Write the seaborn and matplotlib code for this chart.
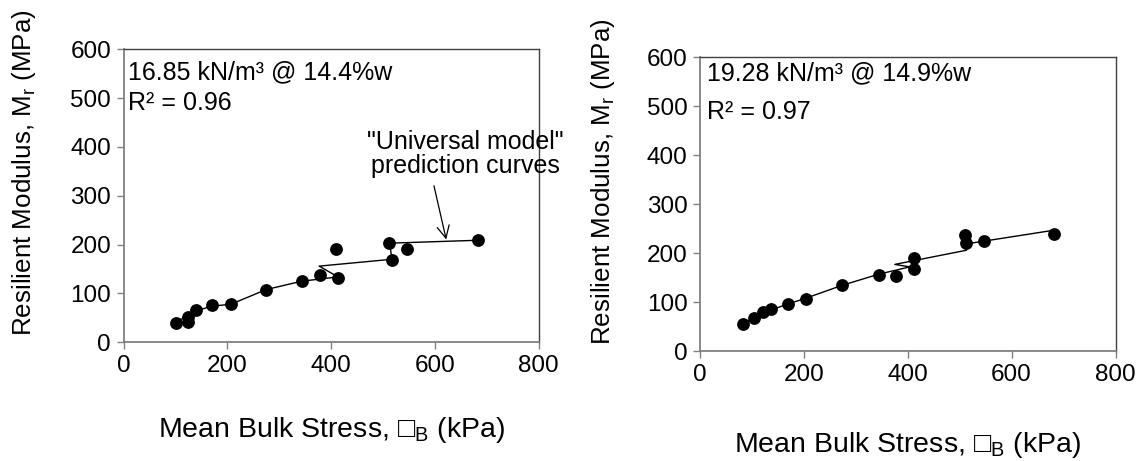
import matplotlib
matplotlib.use("Agg")
import matplotlib.pyplot as plt
import seaborn as sns
import pandas as pd

sns.set_theme(style="white")
plt.rcParams['font.family'] = ['Liberation Sans', 'DejaVu Sans']
plt.rcParams['mathtext.fontset'] = 'custom'
plt.rcParams['mathtext.rm'] = 'Liberation Sans'
plt.rcParams['mathtext.it'] = 'Liberation Sans:italic'
plt.rcParams['text.color'] = 'black'
plt.rcParams['axes.labelcolor'] = 'black'
plt.rcParams['xtick.color'] = 'black'
plt.rcParams['ytick.color'] = 'black'

# ---- data: left panel (16.85 kN/m3 @ 14.4%w)
left_stress = [101, 125, 125, 139, 171, 207, 275, 344, 378, 410, 414, 512, 517, 546, 684]
left_mr = [40, 52, 42, 67, 77, 78, 108, 126, 138, 192, 132, 204, 168, 192, 209]
left_pred_stress = [101, 125, 141, 171, 207, 275, 343, 413, 377, 517, 513, 684]
left_pred_mr = [44, 52, 65, 74, 78, 108, 125, 134, 156, 170, 203, 209]

# ---- data: right panel (19.28 kN/m3 @ 14.9%w)
right_stress = [82, 104, 122, 137, 169, 204, 273, 344, 377, 412, 412, 510, 513, 546, 682]
right_mr = [56, 67, 79, 85, 96, 107, 134, 156, 154, 191, 167, 237, 220, 224, 240]
right_pred_stress = [82, 104, 122, 137, 169, 204, 273, 344, 404, 375, 513, 513, 682]
right_pred_mr = [56, 67, 77, 84, 96, 108, 134, 157, 172, 177, 206, 219, 247]

x_ticks = [0, 200, 400, 600, 800]
y_ticks = [0, 100, 200, 300, 400, 500, 600]

W, H = 1148, 461
fig = plt.figure(figsize=(W / 100, H / 100), dpi=100)

def px_axes(l, r, t, b):
    return fig.add_axes([l / W, (H - b) / H, (r - l) / W, (b - t) / H])

ax1 = px_axes(123.5, 538.7, 49.3, 342.3)
ax2 = px_axes(700, 1115.5, 57.5, 351)

xlabel = "Mean Bulk Stress, \u25a1$_\\mathregular{B}$ (kPa)"
ylabel = "Resilient Modulus, M$_\\mathregular{r}$ (MPa)"

panels = [
    (ax1, left_stress, left_mr, left_pred_stress, left_pred_mr,
     "16.85 kN/m\u00b3 @ 14.4%w", "R\u00b2 = 0.96", (0.011, 0.921), (0.011, 0.816),
     (-0.240, 0.58), (0.5, -0.30)),
    (ax2, right_stress, right_mr, right_pred_stress, right_pred_mr,
     "19.28 kN/m\u00b3 @ 14.9%w", "R\u00b2 = 0.97", (0.016, 0.947), (0.016, 0.814),
     (-0.233, 0.576), (0.5, -0.32)),
]

for ax, xs, ys, pxs, pys, t1, t2, p1, p2, ylc, xlc in panels:
    pred = pd.DataFrame({"x": pxs, "y": pys})
    meas = pd.DataFrame({"x": xs, "y": ys})
    sns.lineplot(data=pred, x="x", y="y", sort=False, estimator=None,
                 color="black", linewidth=1.0, ax=ax)
    sns.scatterplot(data=meas, x="x", y="y", color="black", s=85,
                    edgecolor="black", linewidth=0, ax=ax, zorder=3)
    ax.set_xlim(0, 800)
    ax.set_ylim(0, 600)
    ax.set_xticks(x_ticks)
    ax.set_yticks(y_ticks)
    ax.tick_params(axis="both", which="major", direction="out", length=5,
                   width=1, color="#808080", labelcolor="black",
                   labelsize=17.5, pad=4, bottom=True, left=True)
    for side in ["left", "bottom"]:
        ax.spines[side].set_color("#808080")
        ax.spines[side].set_linewidth(1.3)
    for side in ["top", "right"]:
        ax.spines[side].set_color("#404040")
        ax.spines[side].set_linewidth(1.0)
        ax.spines[side].set_visible(True)
    ax.set_xlabel(xlabel, fontsize=20.5, va="center")
    ax.set_ylabel(ylabel, fontsize=18.7, va="center")
    ax.xaxis.set_label_coords(*xlc)
    ax.yaxis.set_label_coords(*ylc)
    ax.text(p1[0], p1[1], t1, transform=ax.transAxes, fontsize=18,
            ha="left", va="center")
    ax.text(p2[0], p2[1], t2, transform=ax.transAxes, fontsize=18,
            ha="left", va="center")

ax1.text(658, 385, "\"Universal model\"\nprediction curves", fontsize=18,
         ha="center", va="center", linespacing=1.0)
ax1.annotate("", xy=(623, 205), xytext=(597, 326),
             arrowprops=dict(arrowstyle="->", color="black", lw=0.9,
                             mutation_scale=22))

fig.savefig("out.png", dpi=100)
